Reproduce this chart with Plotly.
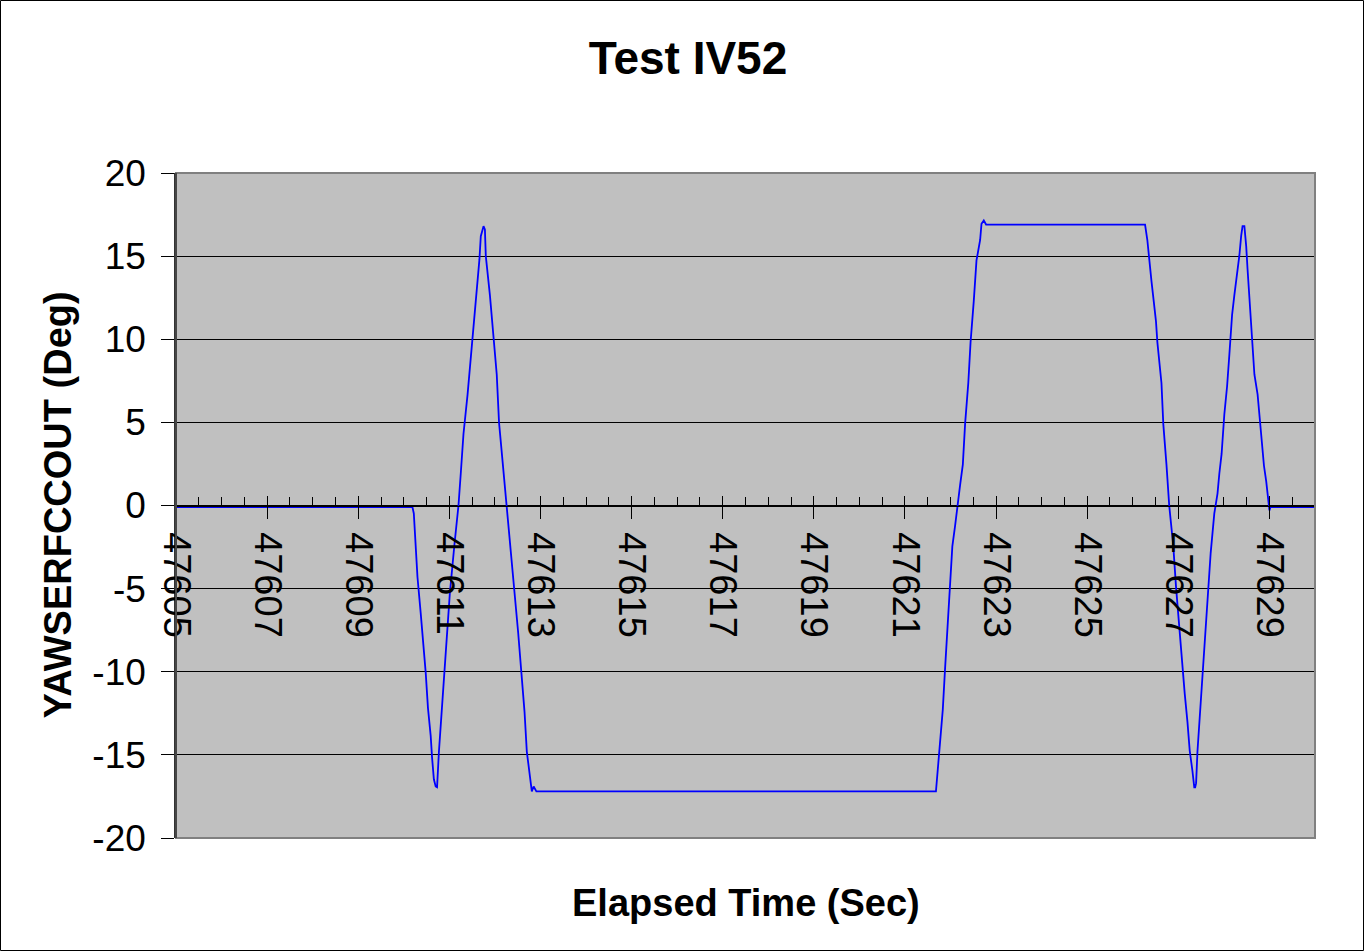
import plotly.graph_objects as go

# Elapsed time (s) and YAWSERFCCOUT (deg)
time_s = [
    47605.00, 47610.19, 47610.22, 47610.26, 47610.30, 47610.37, 47610.43, 47610.48,
    47610.53, 47610.59, 47610.62, 47610.66, 47610.70, 47610.73, 47610.77, 47610.83,
    47610.88, 47610.95, 47611.01, 47611.11, 47611.20, 47611.25, 47611.31, 47611.40,
    47611.46, 47611.53, 47611.60, 47611.66, 47611.69, 47611.75, 47611.78, 47611.80,
    47611.89, 47611.96, 47612.04, 47612.09, 47612.18, 47612.25, 47612.36, 47612.43,
    47612.51, 47612.58, 47612.65, 47612.70, 47612.76, 47612.81, 47612.85, 47612.91,
    47621.68, 47621.71, 47621.77, 47621.83, 47621.88, 47621.93, 47621.99, 47622.04,
    47622.10, 47622.15, 47622.21, 47622.27, 47622.32, 47622.39, 47622.44, 47622.51,
    47622.57, 47622.65, 47622.68, 47622.73, 47622.78, 47622.81, 47626.27, 47626.32,
    47626.36, 47626.41, 47626.46, 47626.51, 47626.54, 47626.58, 47626.63, 47626.67,
    47626.71, 47626.74, 47626.80, 47626.85, 47626.89, 47626.95, 47627.02, 47627.09,
    47627.14, 47627.20, 47627.25, 47627.31, 47627.35, 47627.37, 47627.39, 47627.42,
    47627.48, 47627.53, 47627.60, 47627.65, 47627.71, 47627.79, 47627.86, 47627.90,
    47627.95, 47628.01, 47628.07, 47628.12, 47628.18, 47628.23, 47628.29, 47628.34,
    47628.38, 47628.41, 47628.45, 47628.49, 47628.52, 47628.56, 47628.61, 47628.67,
    47628.74, 47628.78, 47628.82, 47628.88, 47628.93, 47628.96, 47628.98, 47629.00,
    47629.02, 47630.00,
]
yaw_deg = [
    -0.10, -0.10, -0.48, -2.39, -4.30, -6.44, -8.35, -10.02,
    -12.17, -13.84, -15.15, -16.47, -16.90, -16.95, -14.84, -12.45,
    -10.07, -7.68, -5.30, -2.39, 0.00, 1.91, 4.30, 6.68,
    8.59, 10.74, 12.65, 14.80, 16.20, 16.80, 16.60, 15.00,
    12.65, 10.26, 7.88, 5.00, 2.39, 0.00, -2.86, -5.25,
    -7.64, -10.02, -12.41, -14.80, -16.23, -17.20, -16.90, -17.20,
    -17.20, -16.20, -14.74, -12.29, -9.83, -7.37, -4.91, -2.46,
    -1.23, 0.00, 1.23, 2.46, 4.91, 7.37, 9.83, 12.29,
    14.74, 15.97, 16.95, 17.15, 16.90, 16.90, 16.90, 15.97,
    14.74, 13.51, 12.29, 11.06, 9.83, 8.60, 7.37, 4.91,
    3.69, 2.46, 0.00, -1.23, -2.46, -4.91, -7.37, -9.83,
    -11.30, -13.00, -14.74, -15.97, -16.95, -16.95, -16.70, -14.80,
    -12.41, -10.02, -7.64, -5.25, -2.86, -0.48, 0.72, 1.91,
    3.10, 5.49, 7.16, 9.07, 11.46, 12.65, 13.84, 15.04,
    16.23, 16.80, 16.80, 15.60, 14.20, 12.65, 10.26, 7.88,
    6.68, 5.49, 4.30, 2.39, 1.43, 0.48, -0.05, -0.30,
    -0.10, -0.10,
]

x_tick_vals = [47605, 47607, 47609, 47611, 47613, 47615, 47617,
               47619, 47621, 47623, 47625, 47627, 47629]
x_tick_text = [str(v) for v in x_tick_vals]
y_tick_vals = [-20, -15, -10, -5, 0, 5, 10, 15, 20]
y_tick_text = [str(v) for v in y_tick_vals]

FONT = "Liberation Sans, Arial, sans-serif"
W, H = 1364, 951
L, R, T, B = 176, 49, 173, 113
PW, PH = W - L - R, H - T - B

fig = go.Figure()
fig.add_trace(go.Scatter(
    x=time_s, y=yaw_deg, mode="lines",
    line=dict(color="#0000FF", width=1.8), showlegend=False,
))
# invisible trace to activate the overlay axis carrying upward major ticks
fig.add_trace(go.Scatter(x=[time_s[0]], y=[yaw_deg[0]], xaxis="x2",
                         mode="markers", marker=dict(opacity=0),
                         showlegend=False, hoverinfo="skip"))

fig.update_layout(
    width=W, height=H,
    margin=dict(l=L, r=R, t=T, b=B),
    paper_bgcolor="white",
    plot_bgcolor="#C0C0C0",
    font=dict(family=FONT, color="black"),
    title=dict(text="Test IV52", x=688 / W, xanchor="center",
               y=1 - 58 / H, yanchor="middle", yref="container",
               font=dict(family=FONT, size=46, weight="bold", color="black")),
    xaxis=dict(
        range=[47605, 47630], anchor="free", position=0.5,
        showgrid=False, zeroline=False,
        showline=True, linecolor="black", linewidth=1,
        tickmode="array", tickvals=x_tick_vals, ticktext=x_tick_text,
        ticks="outside", ticklen=12, tickwidth=1, tickcolor="black",
        tickangle=90, ticklabelstandoff=6,
        tickfont=dict(family=FONT, size=38, color="black"),
        minor=dict(dtick=0.5, tick0=47605, ticks="inside", ticklen=9,
                   tickwidth=1, tickcolor="black", showgrid=False),
    ),
    xaxis2=dict(
        range=[47605, 47630], overlaying="x", anchor="free", position=0.5,
        showgrid=False, zeroline=False, showline=False,
        tickmode="array", tickvals=x_tick_vals, ticktext=["" for _ in x_tick_vals],
        ticks="inside", ticklen=10, tickwidth=1, tickcolor="black",
        showticklabels=False,
    ),
    yaxis=dict(
        range=[-20, 20], tickmode="array", tickvals=y_tick_vals, ticktext=y_tick_text,
        showgrid=True, gridcolor="black", gridwidth=1,
        zeroline=False,
        showline=True, linecolor="#333333", linewidth=1.5,
        ticks="outside", ticklen=13, tickwidth=1, tickcolor="black",
        ticklabelstandoff=8,
        tickfont=dict(family=FONT, size=37, color="black"),
    ),
    shapes=[
        dict(type="rect", xref="paper", yref="paper", x0=0, x1=1, y0=0, y1=1,
             line=dict(color="#808080", width=2), layer="above"),
        dict(type="line", xref="paper", yref="paper", x0=0, x1=0, y0=0, y1=1,
             line=dict(color="#333333", width=1.5), layer="above"),
        dict(type="rect", xref="paper", yref="paper",
             x0=(0.5 - L) / PW, x1=(W - 0.5 - L) / PW,
             y0=-(H - 0.5 - T - PH) / PH, y1=(T - 0.5) / PH + 1,
             line=dict(color="black", width=1), layer="above"),
    ],
    annotations=[
        dict(text="Elapsed Time (Sec)", xref="paper", yref="paper",
             x=0.5, y=-(903 - (T + PH)) / PH, xanchor="center", yanchor="middle",
             showarrow=False,
             font=dict(family=FONT, size=38, weight="bold", color="black")),
        dict(text="YAWSERFCCOUT (Deg)", xref="paper", yref="paper",
             x=(57 - L) / PW, y=0.5, xanchor="center", yanchor="middle",
             textangle=-90, showarrow=False,
             font=dict(family=FONT, size=38, weight="bold", color="black")),
    ],
)

fig.write_html(
    "out.html",
    config={"displayModeBar": False},
    post_script="document.body.style.margin='0';document.body.style.padding='0';",
)
